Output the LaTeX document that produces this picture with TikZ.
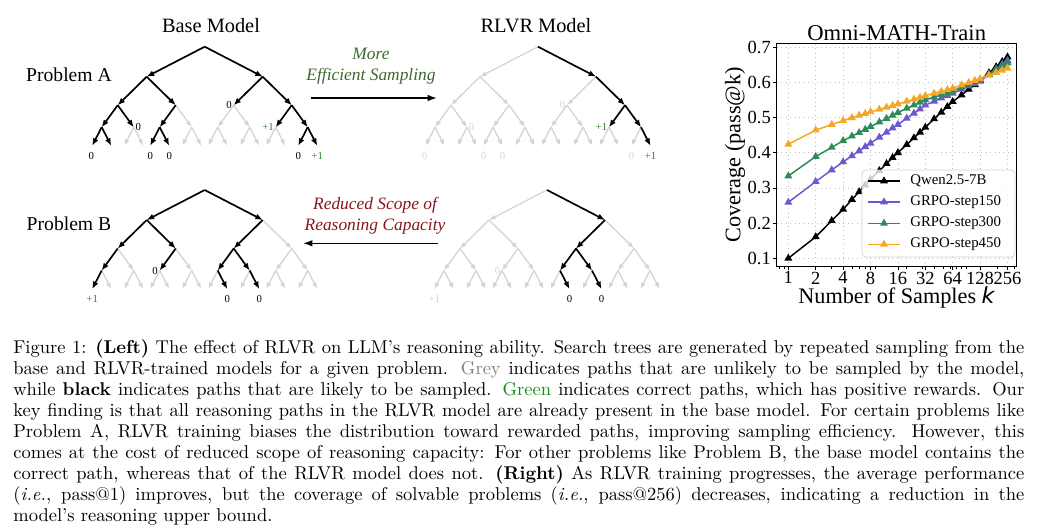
\documentclass[tikz,border=0pt]{standalone}
\usepackage{fontspec}
\usepackage{xcolor}
\usetikzlibrary{positioning,calc,arrows.meta,plotmarks}
\newfontfamily\timesfont{Liberation Serif}
\newfontfamily\dejavufont{DejaVu Sans}
\definecolor{wingreen}{RGB}{46,125,50}
\definecolor{olivenote}{RGB}{62,105,45}
\definecolor{darkrednote}{RGB}{135,22,32}
\definecolor{pathgrey}{RGB}{212,212,212}
\definecolor{capgrey}{RGB}{128,128,128}
\definecolor{capgreen}{RGB}{20,140,20}
\definecolor{stepA}{RGB}{106,90,205}
\definecolor{stepB}{RGB}{46,139,87}
\definecolor{stepC}{RGB}{245,166,35}

% full binary search tree, depth 4, all paths grey
\newcommand{\searchtree}[3]{%
  \coordinate (#1) at (#2,#3);
  \foreach \hA/\sA in {L/-1,R/1}{
    \coordinate (#1\hA) at ($(#1)+(\sA*58,30)$);
    \draw[gry] (#1) -- (#1\hA);
    \foreach \hB/\sB in {L/-1,R/1}{
      \coordinate (#1\hA\hB) at ($(#1\hA)+(\sB*29,28.5)$);
      \draw[gry] (#1\hA) -- (#1\hA\hB);
      \foreach \hC/\sC in {L/-1,R/1}{
        \coordinate (#1\hA\hB\hC) at ($(#1\hA\hB)+(\sC*16,22)$);
        \draw[gry] (#1\hA\hB) -- (#1\hA\hB\hC);
        \foreach \hD/\sD in {L/-1,R/1}{
          \coordinate (#1\hA\hB\hC\hD) at ($(#1\hA\hB\hC)+(\sD*9.5,18.5)$);
          \draw[gry] (#1\hA\hB\hC) -- (#1\hA\hB\hC\hD);
        }
      }
    }
  }
}
% likely paths: parent/step
\newcommand{\hotpaths}[2]{\foreach \p/\c in {#2}{\draw[blk] (#1\p) -- (#1\p\c);}}

\begin{document}
\begin{tikzpicture}[x=0.54pt,y=-0.54pt,
    blk/.style={draw=black,line width=0.9pt,-{Latex[length=4pt,width=3.2pt]}},
    gry/.style={draw=pathgrey,line width=0.7pt,-{Latex[length=3.5pt,width=2.8pt]}},
    reward/.style={font=\timesfont\fontsize{5.8}{6}\selectfont,inner sep=0.8pt},
    win/.style={text=wingreen},
    faded/.style={text=pathgrey},
    title/.style={font=\timesfont\fontsize{11}{13}\selectfont,inner sep=0pt},
    note/.style={font=\timesfont\itshape\fontsize{9.4}{11.3}\selectfont,align=center,inner sep=0pt},
    shiftarrow/.style={draw=black,line width=0.8pt,-{Latex[length=5pt,width=3.5pt]}},
    tick/.style={font=\timesfont\fontsize{10}{12}\selectfont,inner sep=1pt},
    gridline/.style={draw=gray!50,line width=0.4pt,dotted},
    curve/.style={line width=0.8pt,mark=triangle*,mark size=1.7pt,mark options={solid}},
    legtext/.style={font=\timesfont\fontsize{8}{9}\selectfont,anchor=west,inner sep=0pt}
  ]
\useasboundingbox (0,0) rectangle (1056,529);

% ---------- trees ----------
\node[title] (baseTitle) at (211,25.5) {Base Model};
\node[title] (rlvrTitle) at (536,25.5) {RLVR Model};
\node[title,font=\timesfont\fontsize{10.6}{12}\selectfont] (probA) at (69,75) {Problem A};
\node[title,font=\timesfont\fontsize{10.6}{12}\selectfont] (probB) at (69,224) {Problem B};

% base model, problem A
\searchtree{bA}{204.7}{46.7}
\hotpaths{bA}{/L,/R,L/L,L/R,R/L,R/R,LL/L,LL/R,LR/L,RR/L,RR/R,LLL/L,LLL/R,LRL/L,LRL/R,RRR/L,RRR/R}
\node[reward,left=0pt of bARL] (bA-RL) {0};
\node[reward,right=0pt of bALLR] (bA-LLR) {0};
\node[reward,win,left=0pt of bARRL] (bA-RRL) {+1};
\node[reward,below left=2.5pt and -2pt of bALLLL] (bA-LLLL) {0};
\node[reward,below=2.5pt of bALRLL] (bA-LRLL) {0};
\node[reward,below=2.5pt of bALRLR] (bA-LRLR) {0};
\node[reward,below=2.5pt of bARRRL] (bA-RRRL) {0};
\node[reward,win,below=2.5pt of bARRRR] (bA-RRRR) {+1};

% rlvr model, problem A
\searchtree{rA}{538}{46.7}
\hotpaths{rA}{/R,R/R,RR/L,RR/R,RRR/R}
\node[reward,faded,left=0pt of rARL] (rA-RL) {0};
\node[reward,faded,right=0pt of rALLR] (rA-LLR) {0};
\node[reward,win,left=0pt of rARRL] (rA-RRL) {+1};
\node[reward,faded,below left=2.5pt and -2pt of rALLLL] (rA-LLLL) {0};
\node[reward,faded,below=2.5pt of rALRLL] (rA-LRLL) {0};
\node[reward,faded,below=2.5pt of rALRLR] (rA-LRLR) {0};
\node[reward,faded,below=2.5pt of rARRRL] (rA-RRRL) {0};
\node[reward,win,below=2.5pt of rARRRR] (rA-RRRR) {+1};

% base model, problem B
\searchtree{bB}{204.7}{190}
\hotpaths{bB}{/L,/R,L/L,L/R,R/L,LL/L,LR/L,RL/L,RL/R,LLL/L,RLL/R,RLR/R}
\node[reward,left=0pt of bBLRL] (bB-LRL) {0};
\node[reward,win,below=2.5pt of bBLLLL] (bB-LLLL) {+1};
\node[reward,below=2.5pt of bBRLLR] (bB-RLLR) {0};
\node[reward,below=2.5pt of bBRLRR] (bB-RLRR) {0};

% rlvr model, problem B
\searchtree{rB}{547}{190}
\hotpaths{rB}{/R,R/L,RL/L,RL/R,RLL/R,RLR/R}
\node[reward,faded,left=0pt of rBLRL] (rB-LRL) {0};
\node[reward,faded,below=2.5pt of rBLLLL] (rB-LLLL) {+1};
\node[reward,below=2.5pt of rBRLLR] (rB-RLLR) {0};
\node[reward,below=2.5pt of rBRLRR] (rB-RLRR) {0};

% shifts between the models
\coordinate (effTail) at (311,98);
\coordinate (effHead) at (437,98);
\draw[shiftarrow] (effTail) -- (effHead);
\node[note,text=olivenote] (effNote) at (371,66) {More\\Efficient Sampling};
\coordinate (capTail) at (438,243.3);
\coordinate (capHead) at (303,243.3);
\draw[shiftarrow] (capTail) -- (capHead);
\node[note,text=darkrednote] (capNote) at (375,215.5) {Reduced Scope of\\Reasoning Capacity};

% ---------- coverage plot ----------
\node[font=\timesfont\fontsize{12.2}{14}\selectfont,inner sep=0pt] (plotTitle) at (896.7,33) {Omni-MATH-Train};
\node[font=\timesfont\fontsize{12}{14}\selectfont,rotate=90,inner sep=0pt] (yLabel) at (735,155) {Coverage (pass@k)};
\node[font=\timesfont\fontsize{12}{14}\selectfont,inner sep=0pt,anchor=base] (xLabel) at (896.5,303) {Number of Samples {\dejavufont\itshape k}};

\begin{scope}[shift={(788.3,293.5)},x=14.796pt,y=190.08pt]
  \foreach \t in {0,...,8}
    \draw[gridline] (\t,0.076) -- (\t,0.711);
  \foreach \v in {0.1,0.2,0.3,0.4,0.5,0.6,0.7}{
    \draw[gridline] (-0.42,\v) -- (8.31,\v);
    \draw[line width=0.4pt] (-0.42,\v) -- ++(-2pt,0);
    \node[tick,anchor=east] (ytick\v) at ([xshift=-2pt]-0.42,\v) {\v};
  }
  \foreach \t/\k in {0/1,1/2,2/4,3/8,4/16,5/32,6/64,7/128,8/256}{
    \draw[line width=0.4pt] (\t,0.076) -- ++(0,-2pt);
    \node[tick,anchor=north] (xtick\k) at ([yshift=-1.5pt]\t,0.076) {\k};
  }
  \foreach \t in {-0.322,-0.152,1.585,2.322,2.585,2.807,3.170,4.322,4.907,5.322,5.644,5.907,6.129,6.322,6.492,7.644,8.229}
    \draw[line width=0.3pt] (\t,0.076) -- ++(0,-1.1pt);

  \draw[curve,black] plot coordinates {(0,0.100) (1,0.161) (1.585,0.207) (2,0.239) (2.322,0.267) (2.585,0.289) (2.807,0.308) (3,0.325) (3.322,0.349) (3.585,0.369) (3.807,0.386) (4,0.400) (4.322,0.423) (4.585,0.442) (4.807,0.458) (5,0.472) (5.322,0.496) (5.585,0.515) (5.807,0.531) (6,0.545) (6.322,0.564) (6.585,0.580) (6.807,0.593) (7,0.605) (7.322,0.627) (7.585,0.644) (7.807,0.659) (8,0.672)};
  \draw[curve,stepA] plot coordinates {(0,0.259) (1,0.318) (1.585,0.351) (2,0.374) (2.322,0.391) (2.585,0.405) (2.807,0.417) (3,0.427) (3.322,0.444) (3.585,0.458) (3.807,0.470) (4,0.480) (4.322,0.498) (4.585,0.512) (4.807,0.524) (5,0.535) (5.322,0.546) (5.585,0.555) (5.807,0.562) (6,0.569) (6.322,0.580) (6.585,0.589) (6.807,0.596) (7,0.603) (7.322,0.622) (7.585,0.638) (7.807,0.651) (8,0.662)};
  \draw[curve,stepB] plot coordinates {(0,0.334) (1,0.389) (1.585,0.415) (2,0.434) (2.322,0.447) (2.585,0.457) (2.807,0.466) (3,0.474) (3.322,0.487) (3.585,0.497) (3.807,0.506) (4,0.514) (4.322,0.526) (4.585,0.535) (4.807,0.543) (5,0.550) (5.322,0.558) (5.585,0.565) (5.807,0.570) (6,0.575) (6.322,0.586) (6.585,0.594) (6.807,0.602) (7,0.608) (7.322,0.623) (7.585,0.636) (7.807,0.646) (8,0.655)};
  \draw[curve,stepC] plot coordinates {(0,0.424) (1,0.464) (1.585,0.480) (2,0.491) (2.322,0.499) (2.585,0.506) (2.807,0.511) (3,0.516) (3.322,0.523) (3.585,0.529) (3.807,0.534) (4,0.538) (4.322,0.546) (4.585,0.552) (4.807,0.557) (5,0.562) (5.322,0.569) (5.585,0.574) (5.807,0.579) (6,0.583) (6.322,0.592) (6.585,0.599) (6.807,0.605) (7,0.610) (7.322,0.620) (7.585,0.628) (7.807,0.634) (8,0.640)};

  \draw[line width=0.5pt] (-0.42,0.076) rectangle (8.31,0.711);
\end{scope}

% legend
\draw[draw=gray!35,line width=0.4pt,fill=white,fill opacity=0.8,rounded corners=2pt] (862,170) rectangle (1015,257);
\foreach \col/\name/\yy in {black/Qwen2.5-7B/181,stepA/GRPO-step150/202,stepB/GRPO-step300/223.3,stepC/GRPO-step450/244.3}{
  \draw[\col,line width=0.8pt] (868,\yy) -- (900,\yy);
  \draw[curve,\col] plot coordinates {(884,\yy)};
  \node[legtext] (leg-\col) at (910,\yy) {\name};
}

% ---------- caption ----------
\node[anchor=north west,text width=545.9pt,align=justify,inner sep=0pt,
      font=\fontsize{10}{11.34}\selectfont] (caption) at (13,339) {%
Figure 1: \textbf{(Left)} The effect of RLVR on LLM's reasoning ability. Search trees are generated by repeated sampling from the\linebreak
base and RLVR-trained models for a given problem. \textcolor{capgrey}{Grey} indicates paths that are unlikely to be sampled by the model,\linebreak
while \textbf{black} indicates paths that are likely to be sampled. \textcolor{capgreen}{Green} indicates correct paths, which has positive rewards. Our\linebreak
key finding is that all reasoning paths in the RLVR model are already present in the base model. For certain problems like\linebreak
Problem A, RLVR training biases the distribution toward rewarded paths, improving sampling efficiency. However, this\linebreak
comes at the cost of reduced scope of reasoning capacity: For other problems like Problem B, the base model contains the\linebreak
correct path, whereas that of the RLVR model does not. \textbf{(Right)} As RLVR training progresses, the average performance\linebreak
(\textit{i.e.}, pass@1) improves, but the coverage of solvable problems (\textit{i.e.}, pass@256) decreases, indicating a reduction in the\linebreak
model's reasoning upper bound.};
\end{tikzpicture}
\end{document}
